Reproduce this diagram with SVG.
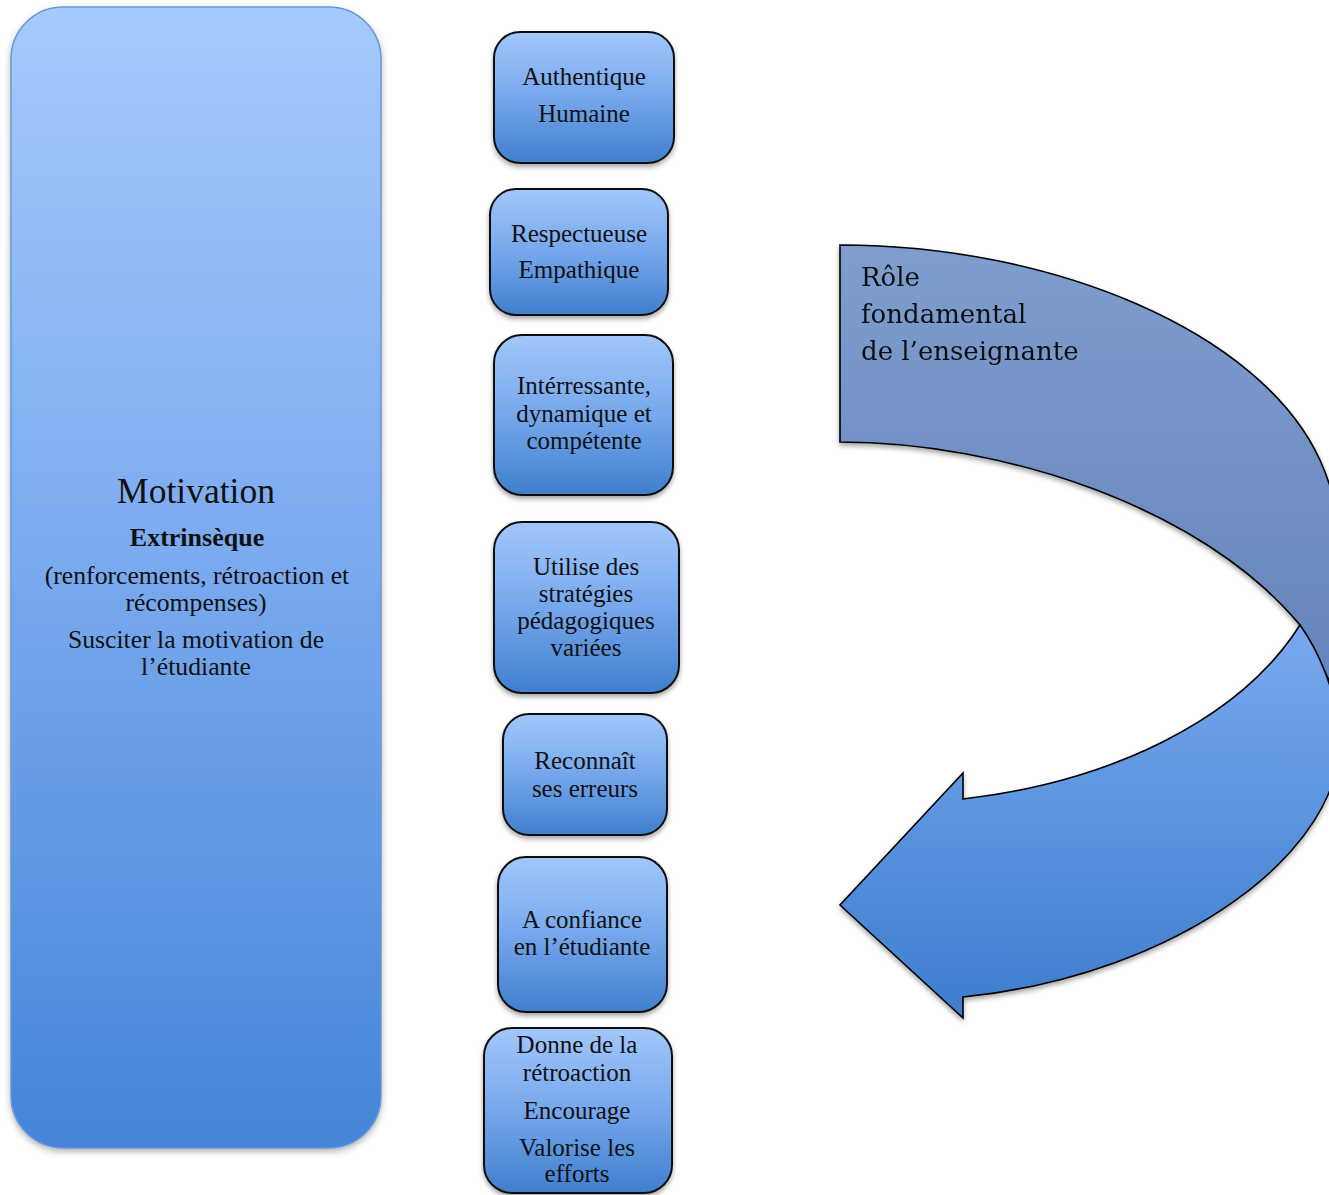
<svg xmlns="http://www.w3.org/2000/svg" width="1329" height="1195" viewBox="0 0 1329 1195">
  <defs>
    <linearGradient id="gBig" x1="0" y1="0" x2="0" y2="1">
      <stop offset="0" stop-color="#a5cbfd"/>
      <stop offset="0.45" stop-color="#7eacf0"/>
      <stop offset="1" stop-color="#4485d7"/>
    </linearGradient>
    <linearGradient id="gBox" x1="0" y1="0" x2="0" y2="1">
      <stop offset="0" stop-color="#a2c7fb"/>
      <stop offset="0.5" stop-color="#76a7ec"/>
      <stop offset="1" stop-color="#3f7fcd"/>
    </linearGradient>
    <linearGradient id="gBack" gradientUnits="userSpaceOnUse" x1="0" y1="245" x2="0" y2="720">
      <stop offset="0" stop-color="#7e9ecf"/>
      <stop offset="1" stop-color="#6282ba"/>
    </linearGradient>
    <linearGradient id="gFront" gradientUnits="userSpaceOnUse" x1="0" y1="625" x2="0" y2="1018">
      <stop offset="0" stop-color="#79a9ee"/>
      <stop offset="1" stop-color="#3d7dce"/>
    </linearGradient>
    <filter id="shadow" x="-10%" y="-10%" width="120%" height="125%">
      <feDropShadow dx="0" dy="3" stdDeviation="2.5" flood-color="#000" flood-opacity="0.35"/>
    </filter>
    <filter id="softShadow" x="-10%" y="-5%" width="120%" height="110%">
      <feDropShadow dx="0" dy="3" stdDeviation="3" flood-color="#000" flood-opacity="0.3"/>
    </filter>
  </defs>
  <style>
    .box { fill: url(#gBox); stroke: #111; stroke-width: 2; filter: url(#shadow); }
    .t { font-family: "Liberation Serif", "Times New Roman", serif; font-size: 25px; fill: #111; text-anchor: middle; }
    .lt { font-size: 25.7px; }
    .big { fill: url(#gBig); stroke: #6a98d8; stroke-width: 1.5; filter: url(#softShadow); }
    .arrowpart { stroke: #000; stroke-width: 1.6; stroke-linejoin: miter; }
    .role { font-family: "DejaVu Serif", "Liberation Serif", serif; font-size: 26px; fill: #111; }
  </style>

  <g id="motivation">
    <rect class="big" x="11" y="7" width="370" height="1141" rx="52" ry="52"/>
    <text class="t" x="196" y="503" style="font-size:35.5px">Motivation</text>
    <text class="t" x="197" y="546" style="font-weight:bold;font-size:26px">Extrinsèque</text>
    <text class="t lt" x="197" y="584">(renforcements, rétroaction et</text>
    <text class="t lt" x="196" y="611">récompenses)</text>
    <text class="t lt" x="196" y="648">Susciter la motivation de</text>
    <text class="t lt" x="196" y="675">l’étudiante</text>
  </g>

  <g id="authentique">
    <rect class="box" x="494" y="32" width="180" height="131" rx="26"/>
    <text class="t" x="584" y="85">Authentique</text>
    <text class="t" x="584" y="122">Humaine</text>
  </g>

  <g id="respectueuse">
    <rect class="box" x="490" y="189" width="178" height="126" rx="26"/>
    <text class="t" x="579" y="242">Respectueuse</text>
    <text class="t" x="579" y="278">Empathique</text>
  </g>

  <g id="interressante">
    <rect class="box" x="494" y="335" width="179" height="160" rx="28"/>
    <text class="t" x="584" y="394">Intérressante,</text>
    <text class="t" x="584" y="422">dynamique et</text>
    <text class="t" x="584" y="449">compétente</text>
  </g>

  <g id="strategies">
    <rect class="box" x="494" y="522" width="185" height="171" rx="28"/>
    <text class="t" x="586" y="575">Utilise des</text>
    <text class="t" x="586" y="602">stratégies</text>
    <text class="t" x="586" y="629">pédagogiques</text>
    <text class="t" x="586" y="656">variées</text>
  </g>

  <g id="reconnait">
    <rect class="box" x="503" y="714" width="164" height="121" rx="26"/>
    <text class="t" x="585" y="769">Reconnaît</text>
    <text class="t" x="585" y="797">ses erreurs</text>
  </g>

  <g id="confiance">
    <rect class="box" x="498" y="857" width="169" height="155" rx="28"/>
    <text class="t" x="582" y="928">A confiance</text>
    <text class="t" x="582" y="955">en l’étudiante</text>
  </g>

  <g id="retroaction">
    <rect class="box" x="484" y="1028" width="188" height="165" rx="28"/>
    <text class="t" x="577" y="1053">Donne de la</text>
    <text class="t" x="577" y="1081">rétroaction</text>
    <text class="t" x="577" y="1119">Encourage</text>
    <text class="t" x="577" y="1156">Valorise les</text>
    <text class="t" x="577" y="1182">efforts</text>
  </g>

  <g id="role-arrow" filter="url(#shadow)">
    <path class="arrowpart" fill="url(#gBack)" d="M840,245 C1050,245 1260,330 1320,460 C1338,500 1350,560 1350,640 L1350,720 L1300,625 C1200,505 1000,442 840,442 Z"/>
    <path class="arrowpart" fill="url(#gFront)" d="M963,799 C1110,782 1240,720 1300,625 C1318,650 1336,690 1340,735 C1345,850 1180,975 963,997 L963,1018 L840,905 L963,773 Z"/>
    <text class="role" x="861" y="286">Rôle</text>
    <text class="role" x="861" y="323">fondamental</text>
    <text class="role" x="861" y="360">de l’enseignante</text>
  </g>
</svg>
